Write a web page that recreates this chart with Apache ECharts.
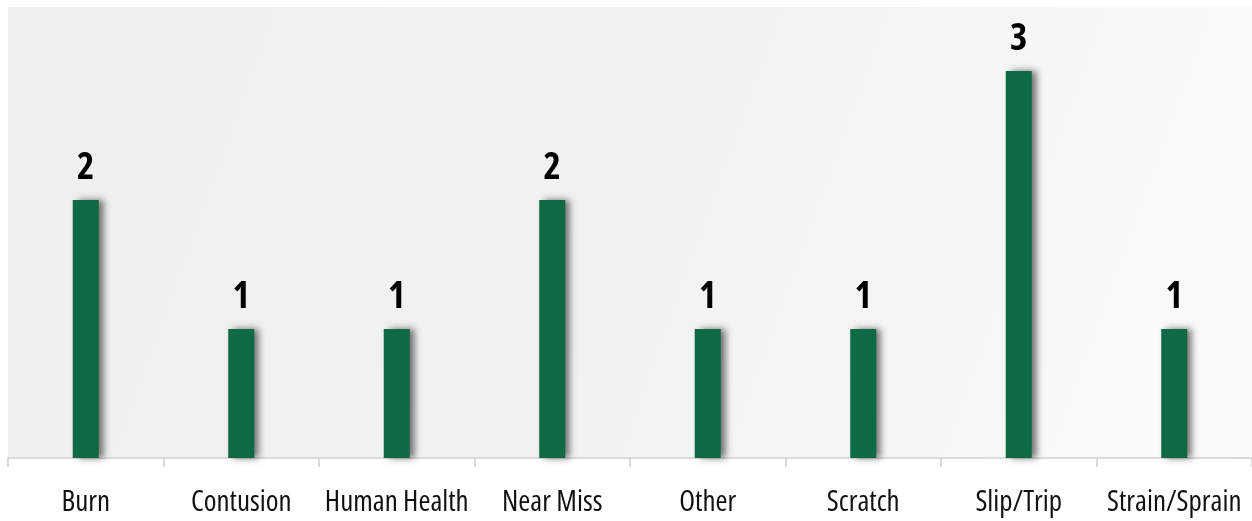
<!DOCTYPE html>
<html><head><meta charset="utf-8">
<script src="https://cdn.jsdelivr.net/npm/echarts@6/dist/echarts.min.js"></script>
<style>html,body{margin:0;padding:0;background:#fff}#c{width:1252px;height:521px}</style>
</head><body><div id="c"></div>
<script>
const categories = ["Burn","Contusion","Human Health","Near Miss","Other","Scratch","Slip/Trip","Strain/Sprain"];
const counts = [2,1,1,2,1,1,3,1];

const FONT = "'Open Sans',sans-serif";
const chart = echarts.init(document.getElementById('c'));
chart.setOption({
  animation: false,
  backgroundColor: '#ffffff',
  grid: {left: 8, right: 0, top: 71, bottom: 63, containLabel: false},
  graphic: [{
    type: 'rect', z: -10, silent: true,
    shape: {x: 8, y: 7, width: 1244, height: 451},
    style: {fill: new echarts.graphic.LinearGradient(0, 0, 1, 1, [
      {offset: 0, color: '#efefef'}, {offset: 0.5, color: '#f2f2f2'}, {offset: 1, color: '#fbfbfc'}])}
  }],
  xAxis: {
    type: 'category', data: categories,
    axisLine: {lineStyle: {color: '#cfcfcf', width: 1.5}},
    axisTick: {show: true, interval: 0, length: 9, lineStyle: {color: '#cfcfcf', width: 1.5}},
    axisLabel: {interval: 0, color: '#111', fontFamily: FONT, fontStyle: 'condensed', fontWeight: 'normal', fontSize: 29, margin: 30}
  },
  yAxis: {type: 'value', min: 0, max: 3, show: false, splitLine: {show: false}},
  series: [{
    type: 'bar', data: counts, barWidth: 26,
    itemStyle: {color: '#0e6a45', shadowColor: 'rgba(0,0,0,0.55)', shadowBlur: 7, shadowOffsetX: 5, shadowOffsetY: 0},
    label: {show: true, position: 'top', distance: 13, color: '#000', fontFamily: FONT, fontStyle: 'condensed', fontWeight: 'bold', fontSize: 37}
  }]
});
</script></body></html>
